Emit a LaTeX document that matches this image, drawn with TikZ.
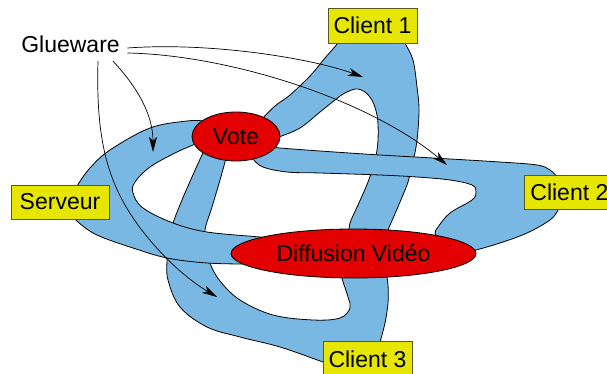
\documentclass[tikz,border=0pt]{standalone}
\usepackage{fontspec}
\setmainfont{Liberation Sans}
\usetikzlibrary{shapes.geometric,arrows.meta}

\definecolor{bandblue}{RGB}{122,184,228}
\definecolor{hubred}{RGB}{226,0,0}
\definecolor{siteyellow}{RGB}{230,230,0}
\definecolor{siteedge}{RGB}{90,90,30}

\tikzset{
  band/.style={fill=bandblue, draw=black, line width=0.8pt},
  hub/.style={ellipse, draw=black, fill=hubred, line width=0.8pt, inner sep=0pt},
  site/.style={rectangle, draw=siteedge, fill=siteyellow, line width=0.8pt,
               minimum width=89pt, minimum height=35pt, inner sep=0pt},
  gluearrow/.style={draw=black, line width=0.7pt,
               -{Stealth[length=15pt,width=8pt,inset=4pt]}},
  sm/.style={smooth, tension=0.6}
}

\begin{document}
\begin{tikzpicture}[x=1pt, y=-1pt, font=\fontsize{23}{27}\selectfont]
\useasboundingbox (0,0) rectangle (607,374);
\clip (0,0) rectangle (607,374);

% Client 1 loop: left arm to Vote, right arm down to the video hub
\path[band]
  plot[sm] coordinates {(260,121) (275,106) (290,95) (310,76) (325,58) (338,43) (340,38)}
  -- plot[sm] coordinates {(404,38) (405,43) (413,60) (417,87) (419,110) (417,140)
                           (413,162) (408,182) (400,202) (388,230) (386,236)}
  -- plot[sm] coordinates {(349,234) (350,223) (358,205) (368,182) (375,160) (378,140)
                           (377,115) (370,97) (358,89) (345,93) (335,100) (320,112)
                           (300,128) (279,137) (274,139)}
  -- cycle;

% Client 3 loop: left arm up to Vote, right arm up to the video hub
\path[band]
  plot[sm] coordinates {(204,152) (202,155) (192,177) (182,200) (173,223) (168,242)
                        (167,260) (168,280) (180,307) (207,327) (240,337) (280,347)
                        (323,362) (330,364)}
  -- plot[sm] coordinates {(378,348) (380,342) (385,323) (388,303) (388,285) (386,272)}
  -- plot[sm] coordinates {(343,272) (342,278) (348,297) (350,308) (340,318) (313,320)
                           (273,315) (240,300) (220,281) (210,263) (207,245) (205,230)
                           (212,207) (220,180) (225,162) (226,158)}
  -- cycle;

% Client 2 loop: upper arm to Vote, lower arm to the video hub
\path[band]
  plot[sm] coordinates {(272,147) (280,148) (320,151) (380,155) (433,158) (500,162)
                        (537,165) (550,170) (558,178) (560,182)}
  -- plot[sm] coordinates {(560,204) (558,210) (550,220) (527,233) (500,243) (476,250)
                           (470,251)}
  -- plot[sm] coordinates {(437,237) (435,233) (438,227) (450,213) (472,200) (476,192)
                           (472,185) (450,180) (417,177) (380,175) (320,173) (287,172)
                           (263,167) (253,159) (252,156)}
  -- cycle;

% Serveur loop: upper arm to Vote, lower arm to the video hub
\path[band]
  plot[sm] coordinates {(204,121) (187,121) (150,128) (110,150) (90,168) (77,186) (74,192)}
  -- plot[sm] coordinates {(73,212) (74,216) (78,222) (97,235) (133,248) (167,258)
                           (207,263) (245,264)}
  -- plot[sm] coordinates {(266,238) (260,237) (207,232) (173,223) (143,208) (133,193)
                           (135,182) (150,167) (175,153) (193,145) (198,143)}
  -- cycle;

% hubs
\node[hub, minimum width=88pt, minimum height=49pt] (vote) at (236,136.5) {Vote};
\node[hub, minimum width=245pt, minimum height=49pt] (video) at (353.5,253.5) {Diffusion Vidéo};

% end points
\node[site] (c1) at (372.5,25.5) {Client 1};
\node[site, anchor=west, minimum width=0pt, minimum height=34pt, inner xsep=6pt]
  (c2) at (524,192) {Client 2};
\node[site] (c3) at (367.5,359) {Client 3};
\node[site, minimum width=98pt, minimum height=34pt] (srv) at (60,202) {Serveur};

% label and its pointers
\node[inner xsep=7.5pt, inner ysep=8pt] (glue) at (70.5,44.5) {Glueware};
\coordinate (t1) at (363,77);
\coordinate (t2) at (447,165);
\coordinate (t3) at (153,152);
\coordinate (t4) at (217,297);
\coordinate (m4) at (125,205);

\draw[gluearrow] ([yshift=-3.5pt]glue.east) .. controls (210,42) and (310,58) .. (t1);
\draw[gluearrow] ([yshift=-8.5pt]glue.east) .. controls (230,55) and (370,100) .. (t2);
\draw[gluearrow] ([xshift=42.5pt]glue.south) .. controls (138,88) and (153,115) .. (t3);
\draw[gluearrow] ([xshift=27.5pt]glue.south) .. controls (96,130) and (105,170) .. (m4)
                 .. controls (145,240) and (180,275) .. (t4);
\end{tikzpicture}
\end{document}
